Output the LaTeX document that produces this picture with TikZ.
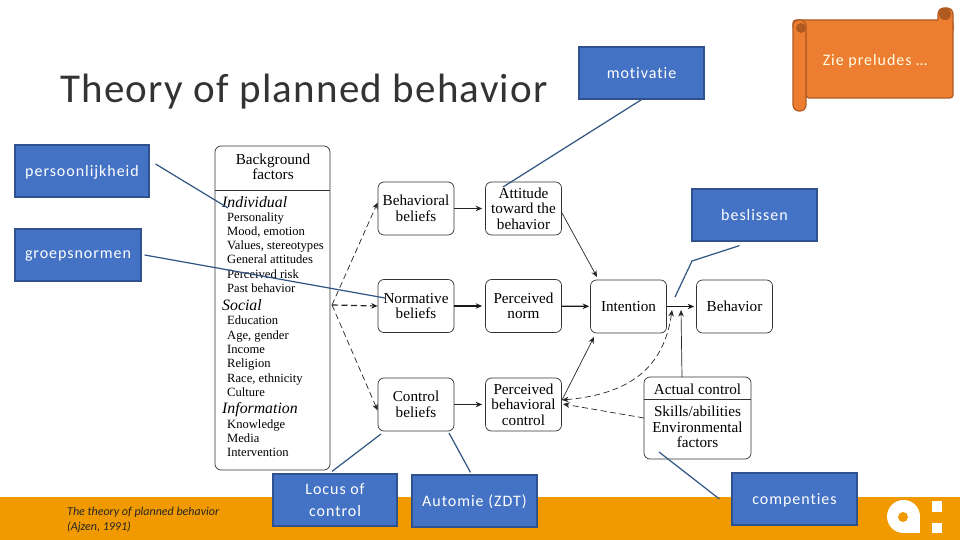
\documentclass[tikz,border=0pt]{standalone}
\usepackage{fontspec}
\setmainfont[Ligatures=NoCommon]{Carlito}
\newfontfamily\serifdiag{Liberation Serif}
\usetikzlibrary{arrows.meta}
\definecolor{bandorange}{HTML}{F09A00}
\definecolor{labelblue}{HTML}{4472C4}
\definecolor{labeledge}{HTML}{2F528F}
\definecolor{calloutblue}{HTML}{2F5482}
\definecolor{scrollfill}{HTML}{ED7D31}
\definecolor{scrolledge}{HTML}{AE5A21}
\tikzset{
  >={Stealth[length=6.5pt,width=5.5pt]},
  labelbox/.style={draw=labeledge,fill=labelblue,line width=1.2pt,text=white,minimum width=#1,minimum height=52pt,inner sep=0pt,text depth=0pt,align=center,font=\fontsize{16}{22}\selectfont\addfontfeatures{LetterSpace=6}},
  factorbox/.style={draw=black!80,fill=white,rounded corners=6pt,line width=0.7pt,minimum width=76pt,minimum height=53pt,inner sep=0pt,align=center,font=\serifdiag\fontsize{15.2}{15.5}\selectfont},
  plaintext/.style={font=\serifdiag\fontsize{15.2}{15.5}\selectfont,align=center,inner sep=0pt},
  bgitem/.style={anchor=base west,inner sep=0pt,font=\serifdiag\fontsize{12.6}{14}\selectfont},
  bghead/.style={anchor=base west,inner sep=0pt,font=\serifdiag\itshape\fontsize{15.8}{16}\selectfont},
  callout/.style={draw=calloutblue,line width=1.2pt},
  flow/.style={->,black!85,line width=0.7pt},
  thickflow/.style={->,black!90,line width=1.3pt},
  dashflow/.style={->,black!85,line width=0.7pt,dash pattern=on 6pt off 3.5pt}
}
\begin{document}
\begin{tikzpicture}[x=1pt,y=-1pt]
  \useasboundingbox (0,0) rectangle (960,540);
  \fill[white] (0,0) rectangle (960,540);
  \fill[bandorange] (0,497) rectangle (960,540);
  % logo
  \fill[white] (903.5,516.5) circle (16.5pt);
  \fill[white] (903.5,516.5) rectangle (920,533);
  \fill[bandorange] (903,517) circle (5pt);
  \fill[white] (932,501) rectangle (942,512);
  \fill[white] (932,523) rectangle (942,533);
  % scroll
  \draw[scrolledge,fill=scrollfill,line width=1.2pt,rounded corners=3pt] (799,20) -- (953,20) -- (953,98) -- (806,98) -- (806,30) -- (793,30) -- (793,20) -- cycle;
  \draw[scrolledge,fill=scrollfill,line width=1.2pt,rounded corners=6pt] (793,20) rectangle (806,111);
  \draw[scrolledge,fill=scrollfill,line width=1.2pt,rounded corners=6pt] (938,20) -- (938,8) -- (953,8) -- (953,30);
  \fill[scrolledge] (801,28) circle (5pt);
  \fill[scrolledge] (945,14) circle (6pt);
  \node[text=white!90!yellow,font=\fontsize{16}{18}\selectfont\addfontfeatures{LetterSpace=6},inner sep=0pt] (prelude) at (875,61) {Zie preludes \dots};
  % title
  \node[font=\fontsize{41}{48}\selectfont,anchor=west,inner sep=0pt,text=black!80] (title) at (60,92) {\addfontfeatures{LetterSpace=3}Theory of planned behavior};
  % source
  \node[font=\itshape\fontsize{12}{15}\selectfont,anchor=north west,align=left,inner sep=0pt,text=black!85] (source) at (67,506.5) {The theory of planned behavior\\(Ajzen, 1991)};
  % background factors
  \node[factorbox,minimum width=115pt,minimum height=324pt] (bgbox) at (272.5,308) {};
  \coordinate (bgleft) at (215,190);
  \coordinate (bgright) at (330,190);
  \draw[black!80,line width=0.7pt] (bgleft) -- (bgright);
  \node[plaintext] (bgtitle) at (273,167) {Background\\factors};
  \foreach \y/\t [count=\i] in {207/Individual,310/Social,413/Information}
    \node[bghead] (bghead\i) at (222,\y) {\t};
  \foreach \y/\t [count=\i] in {221/Personality,235.5/{Mood, emotion},249.5/{Values, stereotypes},263.5/General attitudes,278.5/Perceived risk,292.5/Past behavior,324.5/Education,339/{Age, gender},353/Income,367.5/Religion,382/{Race, ethnicity},396/Culture,428/Knowledge,442/Media,456/Intervention}
    \node[bgitem] (bgitem\i) at (227,\y) {\t};
  % belief columns
  \node[factorbox] (behavbel) at (416,208.5) {Behavioral\\beliefs};
  \node[factorbox] (normbel) at (416,306) {Normative\\beliefs};
  \node[factorbox] (contrbel) at (416,404.5) {Control\\beliefs};
  \node[factorbox] (attitude) at (523.5,208.5) {Attitude\\toward the\\behavior};
  \node[factorbox] (pernorm) at (523.5,306) {Perceived\\norm};
  \node[factorbox] (percontr) at (523.5,404.5) {Perceived\\behavioral\\control};
  \node[factorbox] (intention) at (628.5,306.5) {Intention};
  \node[factorbox] (behavior) at (734.5,306.5) {Behavior};
  \node[factorbox,minimum width=107pt,minimum height=82pt] (actual) at (697.5,418) {};
  \coordinate (actdivl) at (644,399);
  \coordinate (actdivr) at (751,399);
  \draw[black!80,line width=0.7pt] (actdivl) -- (actdivr);
  \node[plaintext] (acthead) at (697.5,389) {Actual control};
  \node[plaintext] (actbody) at (697.5,427) {Skills/abilities\\Environmental\\factors};
  % arrows
  \coordinate (hub) at (332,305);
  \coordinate (intop) at (597,277);
  \coordinate (intbot) at (594,337);
  \coordinate (pcout) at (562,400);
  \coordinate (pcin) at (563,404);
  \coordinate (modtipa) at (672,310);
  \coordinate (modtipb) at (681,310);
  \coordinate (actout) at (682,377);
  \coordinate (actleft) at (644,418);
  \coordinate (attout) at (562,213);
  \draw[dashflow] (hub) -- ([yshift=6pt]behavbel.west);
  \draw[dashflow,line width=1.2pt] (hub) -- (normbel.west);
  \draw[dashflow] (hub) -- ([yshift=-6pt]contrbel.west);
  \draw[flow,shorten >=3pt] (behavbel) -- (attitude);
  \draw[thickflow,shorten >=3pt] (normbel) -- (pernorm);
  \draw[flow,shorten >=3pt] (contrbel) -- (percontr);
  \draw[flow] (attout) -- (intop);
  \draw[thickflow,shorten >=1pt] (pernorm) -- (intention);
  \draw[flow] (pcout) -- (intbot);
  \draw[thickflow,shorten >=2pt] (intention) -- (behavior);
  \draw[flow] (actout) -- (modtipb);
  \draw[dashflow,<->] (pcout) .. controls (620,395) and (663,375) .. (modtipa);
  \draw[dashflow] (actleft) -- (pcin);
  % blue labels
  \node[labelbox=134pt] (persoon) at (82,171) {persoonlijkheid};
  \node[labelbox=126pt] (groep) at (78,255) {groepsnormen};
  \node[labelbox=125pt] (motivatie) at (641.5,73) {motivatie};
  \node[labelbox=125pt] (beslissen) at (754.5,215) {beslissen};
  \node[labelbox=124pt] (locus) at (335,500) {Locus of\\control};
  \node[labelbox=125pt] (automie) at (474.5,501) {Automie (ZDT)};
  \node[labelbox=125pt] (compet) at (794.5,499) {compenties};
  \coordinate (persoontip) at (228,208);
  \coordinate (groeptip) at (385,298);
  \coordinate (attiptip) at (503,187);
  \coordinate (besbend) at (692,261);
  \coordinate (bestip) at (675,297);
  \coordinate (locustip) at (381,434);
  \coordinate (automietip) at (449,433);
  \coordinate (competip) at (659,452);
  \draw[callout] ([shift={(6pt,7pt)}]persoon.east) -- (persoontip);
  \draw[callout] ([xshift=3pt]groep.east) -- (groeptip);
  \draw[callout] (motivatie.south) -- (attiptip);
  \draw[callout] ([shift={(-15pt,-4pt)}]beslissen.south) -- (besbend) -- (bestip);
  \draw[callout] ([shift={(-3pt,2pt)}]locus.north) -- (locustip);
  \draw[callout] ([shift={(-4pt,2pt)}]automie.north) -- (automietip);
  \draw[callout] ([xshift=-12pt]compet.west) -- (competip);
\end{tikzpicture}
\end{document}
